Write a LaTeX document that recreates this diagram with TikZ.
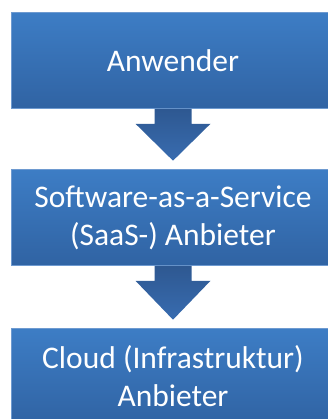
\documentclass[tikz,border=0pt]{standalone}
\usepackage{fontspec}
\setmainfont{Carlito}
\usetikzlibrary{calc}

\definecolor{boxtop}{RGB}{61,125,197}
\definecolor{boxbot}{RGB}{48,99,163}
\definecolor{boxedge}{RGB}{110,154,208}
\definecolor{arrtop}{RGB}{46,88,145}
\definecolor{arrbot}{RGB}{56,108,176}

\tikzset{
  stage/.style={rectangle, draw=boxedge, line width=0.6pt,
    top color=boxtop, bottom color=boxbot, text=white,
    minimum width=324pt, minimum height=96pt, inner sep=0pt,
    align=center, font=\fontsize{31.5}{38}\selectfont},
  flow/.style={top color=arrtop, bottom color=arrbot, draw=none},
}

% fat block arrow from the bottom of #1 down to just above #2
\newcommand{\flowarrow}[2]{%
  \path let \p1=(#1.south), \p2=(#2.north) in
    [flow] (\x1-18.5pt,\y1) -- (\x1-18.5pt,\y1-15pt) -- (\x1-37.5pt,\y1-15pt)
    -- (\x1,\y2+8.5pt) -- (\x1+37.5pt,\y1-15pt) -- (\x1+18.5pt,\y1-15pt)
    -- (\x1+18.5pt,\y1) -- cycle;}

\begin{document}
\begin{tikzpicture}[x=1pt,y=1pt]
\def\xmid{173}
\def\ytop{358.5}
\def\ymid{201.5}
\def\ybot{42.5}

\useasboundingbox (0,0) rectangle (328,419);

\node[stage] (user) at (\xmid,\ytop) {Anwender};
\node[stage] (saas) at (\xmid,\ymid) {Software-as-a-Service\\(SaaS-) Anbieter};
\node[stage] (cloud) at (\xmid,\ybot) {Cloud (Infrastruktur)\\Anbieter};

\flowarrow{user}{saas}
\flowarrow{saas}{cloud}

\end{tikzpicture}
\end{document}
